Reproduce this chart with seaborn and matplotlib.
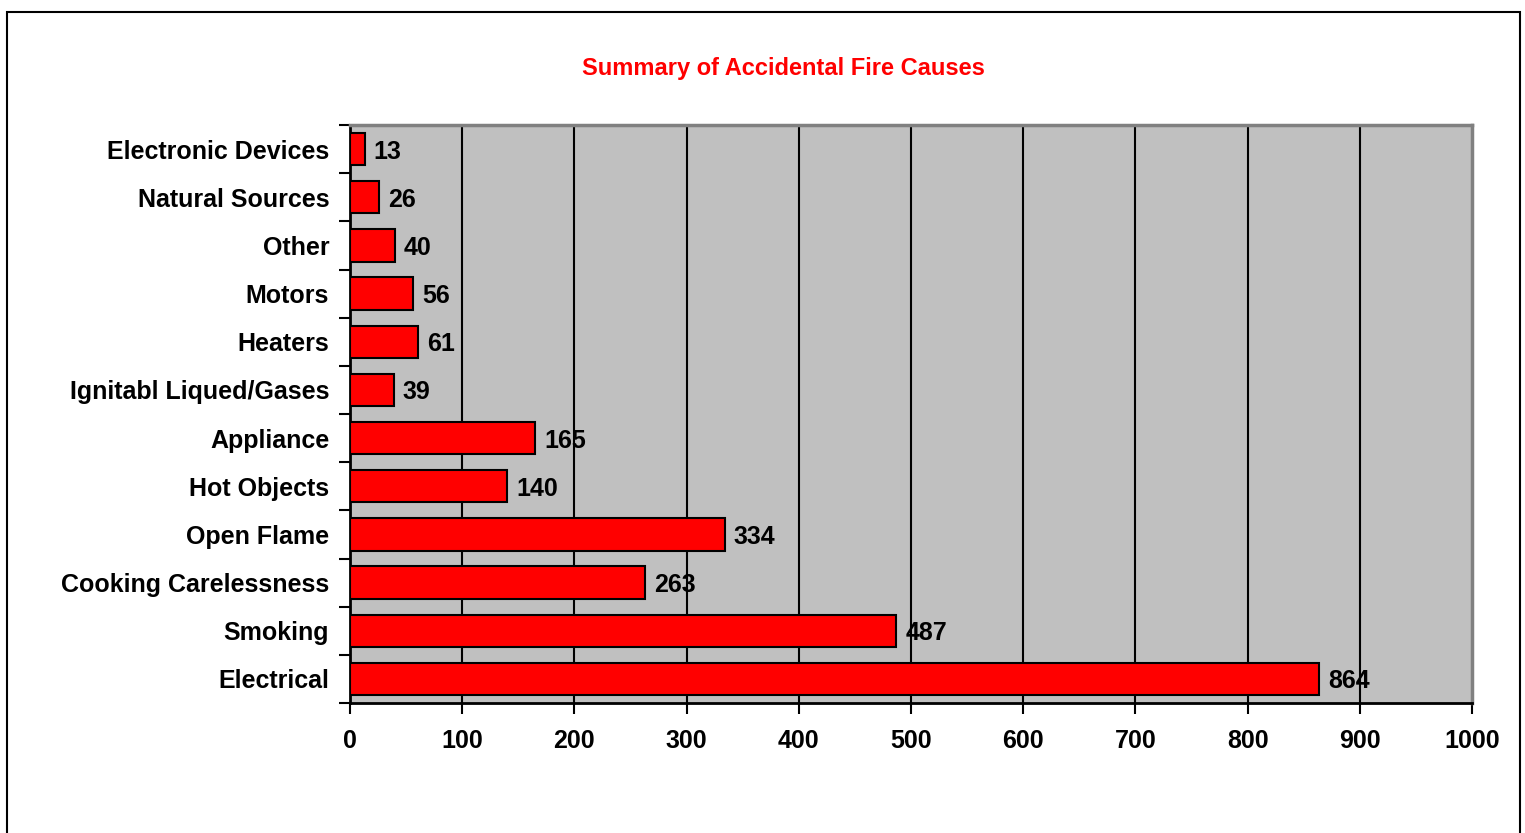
import matplotlib
matplotlib.use("Agg")
import matplotlib.pyplot as plt
import seaborn as sns
import pandas as pd
from matplotlib.patches import Rectangle

# Data (top to bottom)
causes = [
    "Electronic Devices", "Natural Sources", "Other", "Motors", "Heaters",
    "Ignitabl Liqued/Gases", "Appliance", "Hot Objects", "Open Flame",
    "Cooking Carelessness", "Smoking", "Electrical",
]
counts = [13, 26, 40, 56, 61, 39, 165, 140, 334, 263, 487, 864]
x_ticks = list(range(0, 1001, 100))

df = pd.DataFrame({"cause": causes, "count": counts})

sns.set_style("white")
plt.rcParams["font.family"] = ["Liberation Sans", "DejaVu Sans"]

fig = plt.figure(figsize=(15.25, 8.33), dpi=100)
ax = fig.add_axes([350 / 1525, 1 - 703 / 833, 1122 / 1525, 578 / 833])
ax.set_facecolor("#C0C0C0")

sns.barplot(data=df, x="count", y="cause", orient="h", color="#FF0000",
            edgecolor="black", linewidth=1.5, width=0.67, saturation=1, ax=ax, zorder=3)

# vertical gridlines
for t in x_ticks[1:-1]:
    ax.axvline(t, color="black", lw=1.5, zorder=1)

ax.set_xlim(0, 1000)
ax.set_ylim(len(causes) - 0.5, -0.5)
ax.set_xticks(x_ticks)
ax.set_xticklabels([str(t) for t in x_ticks], fontsize=18, fontweight="bold", color="black")
ax.set_yticks(range(len(causes)))
ax.set_yticklabels(causes, fontsize=18, fontweight="bold", color="black")
ax.tick_params(axis="y", length=0, pad=15)
ax.tick_params(axis="x", length=8, width=1.5, direction="out", pad=11, color="black")
# y tick marks sit on category boundaries
ax.set_yticks([i - 0.5 for i in range(len(causes) + 1)], minor=True)
ax.tick_params(axis="y", which="minor", length=8, width=1.5, direction="out",
               left=True, color="black")
ax.tick_params(axis="x", bottom=True)
ax.set_xlabel("")
ax.set_ylabel("")

for s in ["left", "bottom"]:
    ax.spines[s].set_color("black")
    ax.spines[s].set_linewidth(2)
for s in ["top", "right"]:
    ax.spines[s].set_color("#808080")
    ax.spines[s].set_linewidth(2.5)

for i, v in enumerate(counts):
    ax.text(v + 8, i, str(v), va="center_baseline", ha="left", fontsize=18,
            fontweight="bold", color="black", zorder=4)

fig.text(783 / 1525, 1 - 69 / 833, "Summary of Accidental Fire Causes",
         ha="center", va="center", fontsize=17, fontweight="bold", color="#FF0000")

# outer chart border
fig.patches.append(Rectangle((7 / 1525, -0.01), 1513 / 1525, 1 - 12 / 833 + 0.01,
                             transform=fig.transFigure, fill=False,
                             edgecolor="black", lw=1.5))

fig.savefig("out.png", dpi=100)
